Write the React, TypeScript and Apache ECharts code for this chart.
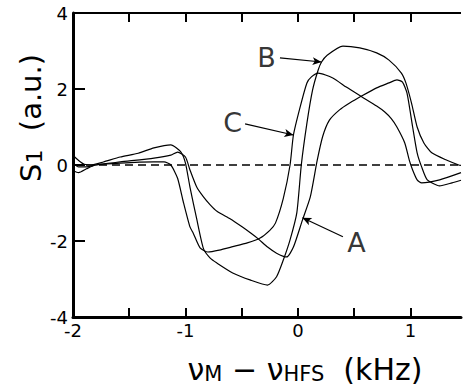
import React, { useEffect, useRef } from "react";
import * as echarts from "echarts";

// Curve A: slow decline before the minimum, slow rise to its maximum near +0.9 kHz
const curveA: [number, number][] = [
  [-2.0, -0.15], [-1.95, -0.2], [-1.88, -0.1], [-1.8, 0.0], [-1.58, 0.08], [-1.28, 0.18],
  [-1.13, 0.26], [-1.07, 0.34], [-1.0, 0.21], [-0.96, -0.13], [-0.9, -0.58], [-0.84, -0.84],
  [-0.78, -1.05], [-0.72, -1.22], [-0.6, -1.42], [-0.5, -1.62], [-0.42, -1.79], [-0.35, -1.95],
  [-0.27, -2.16], [-0.19, -2.32], [-0.1, -2.42], [-0.04, -2.16], [0.04, -1.45], [0.11, -0.84],
  [0.17, 0.1], [0.22, 0.75], [0.28, 1.18], [0.37, 1.45], [0.46, 1.63], [0.57, 1.82],
  [0.7, 2.03], [0.81, 2.16], [0.88, 2.24], [0.93, 2.18], [0.97, 1.89], [1.02, 1.0],
  [1.06, 0.32], [1.1, -0.05], [1.15, -0.39], [1.26, -0.55], [1.37, -0.47], [1.45, -0.4],
];

// Curve B: deepest minimum and highest maximum
const curveB: [number, number][] = [
  [-2.0, 0.25], [-1.95, 0.12], [-1.9, 0.02], [-1.84, 0.0], [-1.73, 0.08], [-1.58, 0.21],
  [-1.42, 0.31], [-1.28, 0.45], [-1.13, 0.53], [-1.04, 0.34], [-1.0, 0.05], [-0.96, -0.58],
  [-0.9, -1.42], [-0.84, -2.2], [-0.78, -2.45], [-0.72, -2.58], [-0.58, -2.84], [-0.42, -3.03],
  [-0.27, -3.16], [-0.19, -2.94], [-0.13, -2.5], [-0.07, -1.97], [-0.01, -1.26], [0.03, 0.0],
  [0.08, 1.1], [0.13, 1.97], [0.18, 2.5], [0.21, 2.71], [0.26, 2.89], [0.4, 3.13],
  [0.55, 3.08], [0.7, 2.95], [0.81, 2.76], [0.92, 2.42], [0.96, 2.16], [1.01, 1.63],
  [1.06, 1.0], [1.12, 0.58], [1.19, 0.32], [1.32, 0.13], [1.43, 0.0], [1.45, -0.01],
];

// Curve C: earliest steep rise, maximum near +0.2 kHz
const curveC: [number, number][] = [
  [-2.0, 0.05], [-1.95, -0.05], [-1.88, -0.05], [-1.8, 0.0], [-1.58, 0.05], [-1.28, 0.08],
  [-1.19, 0.08], [-1.13, 0.0], [-1.07, -0.35], [-1.02, -0.96], [-0.96, -1.63], [-0.93, -1.8],
  [-0.87, -2.18], [-0.8, -2.29], [-0.7, -2.24], [-0.58, -2.15], [-0.45, -2.05], [-0.34, -1.93],
  [-0.25, -1.72], [-0.2, -1.53], [-0.13, -0.88], [-0.07, 0.0], [-0.04, 0.79], [0.02, 1.53],
  [0.08, 2.16], [0.12, 2.32], [0.18, 2.42], [0.31, 2.29], [0.43, 2.05], [0.57, 1.79],
  [0.7, 1.55], [0.77, 1.4], [0.83, 1.22], [0.88, 1.0], [0.95, 0.58], [0.99, 0.13],
  [1.02, -0.13], [1.06, -0.39], [1.1, -0.47], [1.26, -0.39], [1.45, -0.2],
];

const X_MIN = -2;
const X_MAX = 1.45;
const Y_MIN = -4;
const Y_MAX = 4;
const xTickLabels = [-2, -1, 0, 1];
const yTickLabels = [-4, -2, 0, 2, 4];
const xTickValues = [-1.5, -1, -0.5, 0, 0.5, 1];
const yTickValues = [-2, 0, 2];

const annotationNames = ["A", "B", "C"];
const annotationTextAt: [number, number][] = [[0.52, -2.03], [-0.28, 2.84], [-0.58, 1.13]];
const annotationFrom: [number, number][] = [[0.4, -1.89], [-0.16, 2.82], [-0.47, 1.08]];
const annotationTo: [number, number][] = [[0.04, -1.39], [0.21, 2.71], [-0.04, 0.79]];

const FONT = "DejaVu Sans";

export default function App() {
  const ref = useRef<HTMLDivElement>(null);

  useEffect(() => {
    const chart = echarts.init(ref.current!, null, { renderer: "svg" });

    const GRID = { left: 73, right: 2, top: 13, bottom: 71 };
    const plotW = 463 - GRID.left - GRID.right;
    const plotH = 388 - GRID.top - GRID.bottom;
    // tick lengths converted from pixels to data units
    const xTickLen = (9 * (Y_MAX - Y_MIN)) / plotH;
    const yTickLen = (12 * (X_MAX - X_MIN)) / plotW;

    const seg = (a: [number, number], b: [number, number], width: number) => [
      { coord: a, lineStyle: { color: "#000", width, type: "solid" } },
      { coord: b },
    ];

    const frame = [
      seg([X_MIN, Y_MIN], [X_MIN, Y_MAX], 3),
      seg([X_MIN, Y_MIN], [X_MAX, Y_MIN], 3),
      seg([X_MIN, Y_MAX], [X_MAX, Y_MAX], 2),
      ...xTickValues.map((x) => seg([x, Y_MIN], [x, Y_MIN + xTickLen], 2)),
      ...xTickValues.map((x) => seg([x, Y_MAX], [x, Y_MAX - xTickLen], 2)),
      ...yTickValues.map((y) => seg([X_MIN, y], [X_MIN + yTickLen, y], 2)),
    ];

    const lineSeries = (data: [number, number][], extra: any = {}) => ({
      type: "line",
      data,
      showSymbol: false,
      smooth: 0.2,
      lineStyle: { color: "#000", width: 1.2 },
      ...extra,
    });

    chart.setOption({
      animation: false,
      backgroundColor: "#fff",
      grid: { ...GRID, containLabel: false, outerBoundsMode: "none" },
      xAxis: [
        {
          type: "value",
          min: X_MIN,
          max: X_MAX,
          interval: 0.5,
          axisLine: { show: true, onZero: false, lineStyle: { color: "#000", width: 3 } },
          axisTick: { show: true, inside: true, length: 9, lineStyle: { color: "#000", width: 2 } },
          axisLabel: {
            formatter: (v: number) => (xTickLabels.includes(v) ? String(v) : ""),
            fontSize: 18,
            color: "#000",
            fontFamily: FONT,
            margin: 4,
            showMaxLabel: false,
          },
          splitLine: { show: false },
        },
      ],
      yAxis: [
        {
          type: "value",
          min: Y_MIN,
          max: Y_MAX,
          interval: 2,
          axisLine: { show: true, onZero: false, lineStyle: { color: "#000", width: 3 } },
          axisTick: { show: true, inside: true, length: 12, lineStyle: { color: "#000", width: 2 } },
          axisLabel: {
            formatter: (v: number) => (yTickLabels.includes(v) ? String(v) : ""),
            fontSize: 18,
            color: "#000",
            fontFamily: FONT,
            margin: 5,
          },
          splitLine: { show: false },
        },
      ],
      series: [
        lineSeries(curveA, {
          markLine: {
            silent: true,
            symbol: "none",
            label: { show: false },
            lineStyle: { color: "#000", type: [8, 5], width: 1.5 },
            data: [{ yAxis: 0 }],
          },
        }),
        lineSeries(curveB),
        lineSeries(curveC),
        {
          type: "line",
          data: [],
          clip: false,
          markLine: {
            silent: true,
            symbol: ["none", "none"],
            label: { show: false },
            data: frame,
          },
        },
        {
          type: "line",
          data: [],
          markLine: {
            silent: true,
            symbol: ["none", "arrow"],
            symbolSize: [6, 9],
            label: { show: false },
            lineStyle: { color: "#000", type: "solid", width: 1.2 },
            data: annotationNames.map((_, i) => [
              { coord: annotationFrom[i] },
              { coord: annotationTo[i] },
            ]),
          },
        },
        {
          type: "scatter",
          symbolSize: 0,
          data: annotationNames.map((n, i) => ({ value: annotationTextAt[i], name: n })),
          label: {
            show: true,
            position: "inside",
            formatter: (p: any) => p.name,
            fontSize: 27,
            color: "#000",
            fontFamily: FONT,
          },
        },
      ],
      graphic: [
        {
          type: "text",
          x: 305,
          y: 369,
          style: {
            text: "{n|ν}{s|M}{n| − ν}{s|HFS}{n|  (kHz)}",
            textAlign: "center",
            textVerticalAlign: "middle",
            fill: "#000",
            rich: {
              n: { fontSize: 30, fontFamily: FONT, verticalAlign: "bottom", lineHeight: 30 },
              s: { fontSize: 21, fontFamily: FONT, verticalAlign: "bottom", lineHeight: 30 },
            },
          },
        },
        {
          type: "text",
          x: 29,
          y: 118,
          rotation: Math.PI / 2,
          style: {
            text: "{n|S}{s|1}{n|  (a.u.)}",
            textAlign: "center",
            textVerticalAlign: "middle",
            fill: "#000",
            rich: {
              n: { fontSize: 29, fontFamily: FONT, verticalAlign: "bottom", lineHeight: 32 },
              s: { fontSize: 22, fontFamily: FONT, verticalAlign: "bottom", lineHeight: 32 },
            },
          },
        },
      ],
    });

    return () => chart.dispose();
  }, []);

  return (
    <div
      ref={ref}
      style={{ position: "fixed", left: 0, top: 0, width: 463, height: 388, background: "#fff" }}
    />
  );
}
